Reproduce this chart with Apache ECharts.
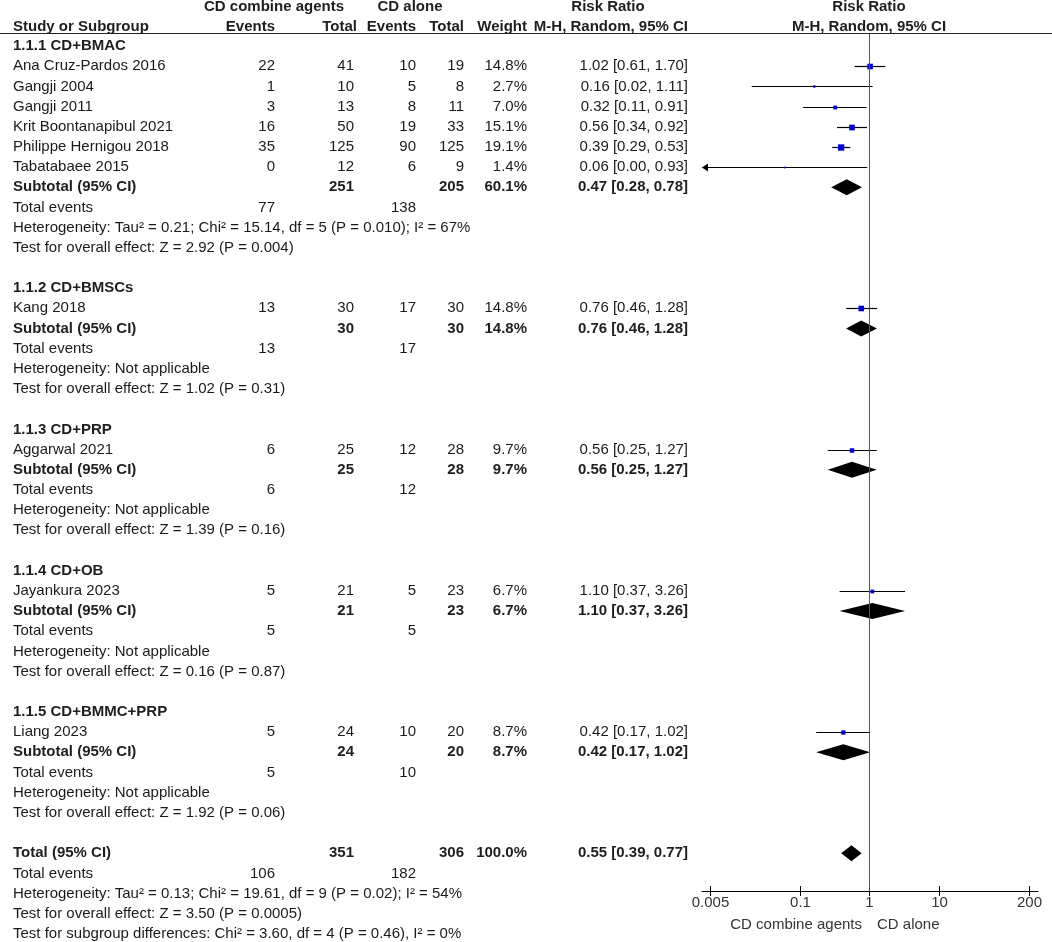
<!DOCTYPE html>
<html><head><meta charset="utf-8">
<script src="https://cdn.jsdelivr.net/npm/echarts@6/dist/echarts.min.js"></script>
<style>html,body{margin:0;padding:0;background:#fff}#c{width:1052px;height:942px}</style>
</head><body><div id="c"></div>
<script>
// ---------- data ----------
const groupNames = ['1.1.1 CD+BMAC', '1.1.2 CD+BMSCs', '1.1.3 CD+PRP', '1.1.4 CD+OB', '1.1.5 CD+BMMC+PRP'];
const studyNames = ['Ana Cruz-Pardos 2016', 'Gangji 2004', 'Gangji 2011', 'Krit Boontanapibul 2021', 'Philippe Hernigou 2018', 'Tabatabaee 2015', 'Kang 2018', 'Aggarwal 2021', 'Jayankura 2023', 'Liang 2023'];
const studyGroup = [0, 0, 0, 0, 0, 0, 1, 2, 3, 4];
const eventsCombine = [22, 1, 3, 16, 35, 0, 13, 6, 5, 5];
const totalCombine = [41, 10, 13, 50, 125, 12, 30, 25, 21, 24];
const eventsAlone = [10, 5, 8, 19, 90, 6, 17, 12, 5, 10];
const totalAlone = [19, 8, 11, 33, 125, 9, 30, 28, 23, 20];
const studyWeight = [14.8, 2.7, 7.0, 15.1, 19.1, 1.4, 14.8, 9.7, 6.7, 8.7];
const studyRR = [1.02, 0.16, 0.32, 0.56, 0.39, 0.06, 0.76, 0.56, 1.10, 0.42];
const studyLower = [0.61, 0.02, 0.11, 0.34, 0.29, 0.00, 0.46, 0.25, 0.37, 0.17];
const studyUpper = [1.70, 1.11, 0.91, 0.92, 0.53, 0.93, 1.28, 1.27, 3.26, 1.02];

const subTotalCombine = [251, 30, 25, 21, 24];
const subTotalAlone = [205, 30, 28, 23, 20];
const subWeight = [60.1, 14.8, 9.7, 6.7, 8.7];
const subRR = [0.47, 0.76, 0.56, 1.10, 0.42];
const subLower = [0.28, 0.46, 0.25, 0.37, 0.17];
const subUpper = [0.78, 1.28, 1.27, 3.26, 1.02];
const subEventsCombine = [77, 13, 6, 5, 5];
const subEventsAlone = [138, 17, 12, 5, 10];
const subHeterogeneity = [
  'Heterogeneity: Tau\u00b2 = 0.21; Chi\u00b2 = 15.14, df = 5 (P = 0.010); I\u00b2 = 67%',
  'Heterogeneity: Not applicable',
  'Heterogeneity: Not applicable',
  'Heterogeneity: Not applicable',
  'Heterogeneity: Not applicable'
];
const subOverall = [
  'Test for overall effect: Z = 2.92 (P = 0.004)',
  'Test for overall effect: Z = 1.02 (P = 0.31)',
  'Test for overall effect: Z = 1.39 (P = 0.16)',
  'Test for overall effect: Z = 0.16 (P = 0.87)',
  'Test for overall effect: Z = 1.92 (P = 0.06)'
];

const overallTotals = [351, 306];
const overallEvents = [106, 182];
const overallWeight = 100.0;
const overallRR = [0.55, 0.39, 0.77];
const overallHeterogeneity = 'Heterogeneity: Tau\u00b2 = 0.13; Chi\u00b2 = 19.61, df = 9 (P = 0.02); I\u00b2 = 54%';
const overallEffect = 'Test for overall effect: Z = 3.50 (P = 0.0005)';
const subgroupDiff = 'Test for subgroup differences: Chi\u00b2 = 3.60, df = 4 (P = 0.46), I\u00b2 = 0%';

const axisTickValues = [0.005, 0.1, 1, 10, 200];
const axisTickLabels = ['0.005', '0.1', '1', '10', '200'];
const favoursLeft = 'CD combine agents';
const favoursRight = 'CD alone';

// ---------- layout ----------
const W = 1052, H = 942, ROW0 = 46, ROWH = 20.18;
const rowOf = y => (y - ROW0) / ROWH;
const FONT = '"Liberation Sans", Arial, sans-serif';
const FS = 15;
const COL = { label: 13, e1: 275, n1: 354, e2: 416, n2: 464, w: 527, rr: 688,
  hCombine: 274, hAlone: 410, hRR: 608, hPlot: 869 };
const PLOT_TOP = 33, PLOT_BOTTOM = 891, PLOT_LEFT = 702, PLOT_RIGHT = 1038;
const X_MIN = 0.003834, X_MAX = 269.7;

const texts = [];
const forest = [];
function T(x, row, text, align, bold, color) {
  texts.push({ x, row, text: String(text), align: align || 'left', bold: !!bold, color: color || (bold ? '#1e1e1e' : '#1a1a1a') });
}
const f2 = v => v.toFixed(2);
const rrText = (r, l, h) => f2(r) + ' [' + f2(l) + ', ' + f2(h) + ']';

// headers
const hr1 = rowOf(7.3), hr2 = rowOf(27.3);
T(COL.hCombine, hr1, 'CD combine agents', 'center', true);
T(COL.hAlone, hr1, 'CD alone', 'center', true);
T(COL.hRR, hr1, 'Risk Ratio', 'center', true);
T(COL.hPlot, hr1, 'Risk Ratio', 'center', true);
T(COL.label, hr2, 'Study or Subgroup', 'left', true);
T(COL.e1, hr2, 'Events', 'right', true);
T(COL.n1 + 3, hr2, 'Total', 'right', true);
T(COL.e2, hr2, 'Events', 'right', true);
T(COL.n2, hr2, 'Total', 'right', true);
T(COL.w, hr2, 'Weight', 'right', true);
T(COL.rr, hr2, 'M-H, Random, 95% CI', 'right', true);
T(COL.hPlot, hr2, 'M-H, Random, 95% CI', 'center', true);

let r = 0;
groupNames.forEach((g, gi) => {
  T(COL.label, r, g, 'left', true); r++;
  studyNames.forEach((s, si) => {
    if (studyGroup[si] !== gi) return;
    T(COL.label, r, s);
    T(COL.e1, r, eventsCombine[si], 'right');
    T(COL.n1, r, totalCombine[si], 'right');
    T(COL.e2, r, eventsAlone[si], 'right');
    T(COL.n2, r, totalAlone[si], 'right');
    T(COL.w, r, studyWeight[si].toFixed(1) + '%', 'right');
    T(COL.rr, r, rrText(studyRR[si], studyLower[si], studyUpper[si]), 'right');
    forest.push({ kind: 'study', row: r, rr: studyRR[si], lo: studyLower[si], hi: studyUpper[si], w: studyWeight[si] });
    r++;
  });
  T(COL.label, r, 'Subtotal (95% CI)', 'left', true);
  T(COL.n1, r, subTotalCombine[gi], 'right', true);
  T(COL.n2, r, subTotalAlone[gi], 'right', true);
  T(COL.w, r, subWeight[gi].toFixed(1) + '%', 'right', true);
  T(COL.rr, r, rrText(subRR[gi], subLower[gi], subUpper[gi]), 'right', true);
  forest.push({ kind: 'diamond', row: r, rr: subRR[gi], lo: subLower[gi], hi: subUpper[gi] });
  r++;
  T(COL.label, r, 'Total events');
  T(COL.e1, r, subEventsCombine[gi], 'right');
  T(COL.e2, r, subEventsAlone[gi], 'right');
  r++;
  T(COL.label, r, subHeterogeneity[gi]); r++;
  T(COL.label, r, subOverall[gi]); r++;
  r++;
});
T(COL.label, r, 'Total (95% CI)', 'left', true);
T(COL.n1, r, overallTotals[0], 'right', true);
T(COL.n2, r, overallTotals[1], 'right', true);
T(COL.w, r, overallWeight.toFixed(1) + '%', 'right', true);
T(COL.rr, r, rrText(overallRR[0], overallRR[1], overallRR[2]), 'right', true);
forest.push({ kind: 'diamond', row: r, rr: overallRR[0], lo: overallRR[1], hi: overallRR[2] });
r++;
T(COL.label, r, 'Total events');
T(COL.e1, r, overallEvents[0], 'right');
T(COL.e2, r, overallEvents[1], 'right');
r++;
T(COL.label, r, overallHeterogeneity); r++;
T(COL.label, r, overallEffect); r++;
T(COL.label, r, subgroupDiff); r++;

T(862, rowOf(925), favoursLeft, 'right', false, '#333');
T(877, rowOf(925), favoursRight, 'left', false, '#333');

const chart = echarts.init(document.getElementById('c'), null, { renderer: 'canvas' });
const option = {
  animation: false,
  backgroundColor: '#fff',
  grid: [
    { left: 0, top: 0, width: W, height: H },
    { left: PLOT_LEFT, top: PLOT_TOP, width: PLOT_RIGHT - PLOT_LEFT, height: PLOT_BOTTOM - PLOT_TOP }
  ],
  xAxis: [
    { type: 'value', gridIndex: 0, min: 0, max: W, show: false },
    { type: 'log', gridIndex: 1, logBase: 10, min: X_MIN, max: X_MAX,
      axisLine: { show: true, onZero: false, lineStyle: { color: '#000', width: 1 } },
      axisTick: { show: false }, axisLabel: { show: false }, splitLine: { show: false } }
  ],
  yAxis: [
    { type: 'value', gridIndex: 0, inverse: true, min: rowOf(0), max: rowOf(H), show: false },
    { type: 'value', gridIndex: 1, inverse: true, min: rowOf(PLOT_TOP), max: rowOf(PLOT_BOTTOM), show: false,
      axisLine: { onZero: false } }
  ],
  graphic: [
    { type: 'line', shape: { x1: 0, y1: 33.5, x2: W, y2: 33.5 }, style: { stroke: '#222', lineWidth: 1.2 }, z: 10 }
  ],
  series: [
    {
      type: 'custom', xAxisIndex: 0, yAxisIndex: 0, clip: false, silent: true,
      data: texts.map((t, i) => [t.x, t.row, i]),
      renderItem: (p, api) => {
        const t = texts[api.value(2)];
        const pt = api.coord([api.value(0), api.value(1)]);
        return { type: 'text', x: pt[0], y: pt[1],
          style: { text: t.text, align: t.align, verticalAlign: 'middle',
            font: (t.bold ? 'bold ' : '') + FS + 'px ' + FONT, fill: t.color } };
      }
    },
    {
      type: 'line', xAxisIndex: 1, yAxisIndex: 1, symbol: 'none', silent: true,
      data: [[1, rowOf(PLOT_TOP)], [1, rowOf(PLOT_BOTTOM)]],
      lineStyle: { color: '#555', width: 1 }
    },
    {
      type: 'custom', xAxisIndex: 1, yAxisIndex: 1, clip: false, silent: true,
      data: forest.map((f, i) => [f.rr, f.row, i]),
      renderItem: (p, api) => {
        const f = forest[api.value(2)];
        const y0 = api.coord([1, f.row])[1];
        const xl = api.coord([Math.max(f.lo, X_MIN), f.row])[0];
        const xh = api.coord([Math.min(f.hi, X_MAX), f.row])[0];
        const xc = api.coord([f.rr, f.row])[0];
        if (f.kind === 'diamond') {
          return { type: 'polygon', shape: { points: [[xl, y0], [xc, y0 - 8], [xh, y0], [xc, y0 + 8]] }, style: { fill: '#000' } };
        }
        const y = Math.round(y0) + 0.5;
        const children = [{ type: 'line', shape: { x1: xl, y1: y, x2: xh, y2: y }, style: { stroke: '#000', lineWidth: 1.2 } }];
        if (f.lo < X_MIN) {
          children.push({ type: 'polygon', shape: { points: [[xl, y], [xl + 6, y - 4], [xl + 6, y + 4]] }, style: { fill: '#000' } });
        }
        const s = 1.45 * Math.sqrt(f.w);
        children.push({ type: 'rect', shape: { x: xc - s / 2, y: y - s / 2, width: s, height: s }, style: { fill: '#0000cc' } });
        return { type: 'group', children };
      }
    },
    {
      type: 'custom', xAxisIndex: 1, yAxisIndex: 1, clip: false, silent: true,
      data: axisTickValues.map((v, i) => [v, rowOf(PLOT_BOTTOM), i]),
      renderItem: (p, api) => {
        const pt = api.coord([api.value(0), api.value(1)]);
        const x = Math.round(pt[0]) + 0.5, y = pt[1];
        return { type: 'group', children: [
          { type: 'line', shape: { x1: x, y1: y - 5, x2: x, y2: y + 5 }, style: { stroke: '#000', lineWidth: 1 } },
          { type: 'text', x: x, y: y + 12, style: { text: axisTickLabels[api.value(2)], align: 'center', verticalAlign: 'middle', font: FS + 'px ' + FONT, fill: '#333' } }
        ] };
      }
    }
  ]
};
chart.setOption(option);
</script>
</body></html>
